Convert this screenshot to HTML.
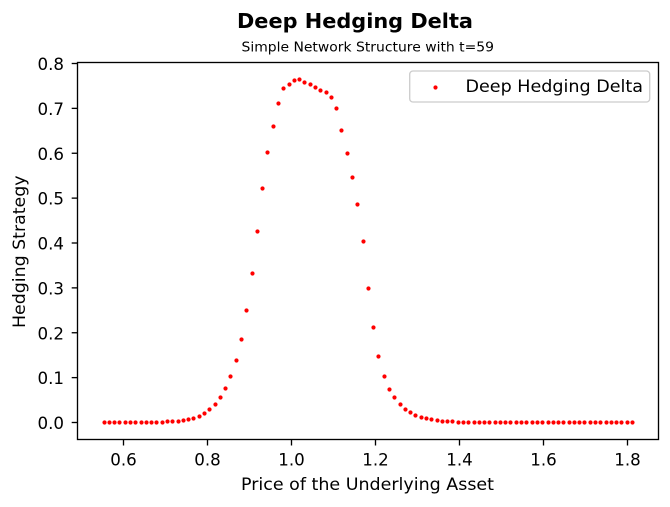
<!DOCTYPE html>
<html lang="en">
<head>
<meta charset="utf-8">
<title>Deep Hedging Delta</title>
<style>
html,body{margin:0;padding:0;background:#fff;width:670px;height:507px;overflow:hidden}
svg{display:block}
text{font-family:"DejaVu Sans","Liberation Sans",sans-serif;fill:#000}
</style>
</head>
<body>
<svg id="chart" xmlns="http://www.w3.org/2000/svg" width="670" height="507" viewBox="0 0 670 507">
  <rect x="0" y="0" width="670" height="507" fill="#fff"/>
  <text x="237" y="28" font-size="20" font-weight="700" textLength="236" lengthAdjust="spacingAndGlyphs">Deep Hedging Delta</text>
  <text x="241.5" y="51.5" font-size="13.33" textLength="252.5" lengthAdjust="spacingAndGlyphs">Simple Network Structure with t=59</text>
  <g id="ticks"></g>
  <g id="points"></g>
  <rect x="77.5" y="62.5" width="581" height="377" fill="none" stroke="#000" stroke-width="1.33"/>
  <text x="241" y="490" font-size="16.67" textLength="253" lengthAdjust="spacingAndGlyphs">Price of the Underlying Asset</text>
  <text transform="translate(25 328) rotate(-90)" font-size="16.67" textLength="152.5" lengthAdjust="spacingAndGlyphs">Hedging Strategy</text>
  <g>
    <rect x="409.7" y="71" width="240" height="31" rx="3.3" ry="3.3" fill="#fff" fill-opacity="0.8" stroke="#ccc" stroke-width="1.33"/>
    <circle cx="435.5" cy="87.5" r="2.1" fill="#f00"/>
    <text x="465.5" y="92" font-size="16.67" textLength="177.5" lengthAdjust="spacingAndGlyphs">Deep Hedging Delta</text>
  </g>
</svg>
<script>
const priceValues = [
  0.5548,0.5667,0.5786,0.5905,0.6048,0.6167,0.6286,0.6429,0.6548,0.6667,0.6786,0.6929,0.7048,0.7167,0.7310,0.7429,0.7548,0.7667,0.7810,0.7929,0.8048,0.8190,0.8310,0.8429,0.8548,0.8690,0.8810,0.8929,0.9071,
  0.9190,0.9310,0.9429,0.9571,0.9690,0.9810,0.9952,1.0071,1.0190,1.0310,1.0452,1.0571,1.0690,1.0833,1.0952,1.1071,1.1190,1.1333,1.1452,1.1571,1.1714,
  1.1833,1.1952,1.2071,1.2214,1.2333,1.2452,1.2595,1.2714,1.2833,1.2952,1.3095,1.3214,1.3333,1.3476,1.3595,1.3714,1.3833,
  1.3976,1.4095,1.4214,1.4357,1.4476,1.4595,1.4714,1.4857,1.4976,1.5095,1.5214,1.5357,1.5476,1.5595,1.5738,1.5857,1.5976,1.6119,1.6238,1.6357,1.6476,1.6619,1.6738,1.6857,1.6976,1.7119,1.7238,1.7357,1.7500,1.7619,1.7738,1.7857,1.8000,1.8119
];
const deltaValues = [
  0,0,0,0,0,0,0,0,0,0,0,0,0.0022,0.0022,0.0022,0.0045,0.0067,0.0089,0.0134,0.0201,0.0290,0.0401,0.0557,0.0758,0.1025,0.1382,0.1850,0.2496,0.3320,
  0.4256,0.5215,0.6017,0.6596,0.7109,0.7443,0.7532,0.7621,0.7643,0.7577,0.7532,0.7465,0.7398,0.7354,0.7242,0.6997,0.6507,0.5994,0.5460,0.4858,0.4033,
  0.2986,0.2117,0.1471,0.1025,0.0735,0.0557,0.0401,0.0290,0.0223,0.0156,0.0111,0.0089,0.0067,0.0045,0.0022,0.0022,0.0022,
  0,0,0,0,0,0,0,0,0,0,0,0,0,0,0,0,0,0,0,0,0,0,0,0,0,0,0,0,0,0,0,0,0,0
];
const xTickValues = [0.6,0.8,1.0,1.2,1.4,1.6,1.8];
const yTickValues = [0.0,0.1,0.2,0.3,0.4,0.5,0.6,0.7,0.8];

const SVG_NS = 'http://www.w3.org/2000/svg';
const xScale = function (v) { return 123.5 + (v - 0.6) * 420; };
const yScale = function (v) { return 422.5 - v * 448.75; };
const tickGroup = document.getElementById('ticks');
const pointGroup = document.getElementById('points');

xTickValues.forEach(function (v) {
  const px = xScale(v);
  const mark = document.createElementNS(SVG_NS, 'line');
  
  
  mark.setAttribute('x1', px);
  mark.setAttribute('x2', px);
  mark.setAttribute('y1', 439.5);
  mark.setAttribute('y2', 445.5);
  mark.setAttribute('stroke', '#000');
  mark.setAttribute('stroke-width', 1.33);
  tickGroup.appendChild(mark);
  const label = document.createElementNS(SVG_NS, 'text');
  
  
  label.setAttribute('x', px);
  label.setAttribute('y', 465.5);
  label.setAttribute('text-anchor', 'middle');
  label.setAttribute('font-size', 16.67);
  label.textContent = v.toFixed(1);
  tickGroup.appendChild(label);
});

yTickValues.forEach(function (v) {
  const py = yScale(v);
  const mark = document.createElementNS(SVG_NS, 'line');
  
  
  mark.setAttribute('x1', 71.7);
  mark.setAttribute('x2', 77.5);
  mark.setAttribute('y1', py);
  mark.setAttribute('y2', py);
  mark.setAttribute('stroke', '#000');
  mark.setAttribute('stroke-width', 1.33);
  tickGroup.appendChild(mark);
  const label = document.createElementNS(SVG_NS, 'text');
  
  
  label.setAttribute('x', 64);
  label.setAttribute('y', py + 6.5);
  label.setAttribute('text-anchor', 'end');
  label.setAttribute('font-size', 16.67);
  label.textContent = v.toFixed(1);
  tickGroup.appendChild(label);
});

priceValues.forEach(function (price, i) {
  const dot = document.createElementNS(SVG_NS, 'circle');
  
  
  dot.setAttribute('cx', xScale(price));
  dot.setAttribute('cy', yScale(deltaValues[i]));
  dot.setAttribute('r', 2.1);
  dot.setAttribute('fill', '#f00');
  pointGroup.appendChild(dot);
});
</script>
</body>
</html>
